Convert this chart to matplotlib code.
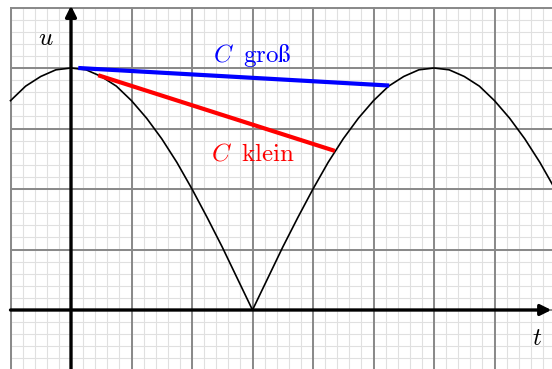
import matplotlib
matplotlib.use("Agg")
import matplotlib.pyplot as plt
import numpy as np

plt.rcParams['mathtext.fontset'] = 'cm'

t_werte = [-1.0, -0.75, -0.5, -0.25, 0.0, 0.25, 0.5, 0.75, 1.0, 1.25, 1.5, 1.75,
           2.0, 2.25, 2.5, 2.75, 3.0, 3.25, 3.5, 3.75, 4.0, 4.25, 4.5, 4.75,
           5.0, 5.25, 5.5, 5.75, 6.0, 6.25, 6.5, 6.75, 7.0, 7.25, 7.5, 7.75, 8.0]
u_werte = [3.46, 3.70, 3.86, 3.97, 4.00, 3.97, 3.86, 3.70, 3.46, 3.17, 2.83, 2.44,
           2.00, 1.53, 1.04, 0.52, 0.00, 0.52, 1.04, 1.53, 2.00, 2.44, 2.83, 3.17,
           3.46, 3.70, 3.86, 3.97, 4.00, 3.97, 3.86, 3.70, 3.46, 3.17, 2.83, 2.44, 2.00]

# Entladung bei grossem C
t_gross = [0.12, 5.26]
u_gross = [4.00, 3.71]

# Entladung bei kleinem C
t_klein = [0.45, 4.36]
u_klein = [3.88, 2.63]

fig = plt.figure(figsize=(5.52, 3.69), dpi=100)
ax = fig.add_axes([0, 0, 1, 1])
ax.set_xlim(-71 / 60.5, 481 / 60.5)
ax.set_ylim(-59 / 60.5, 310 / 60.5)
ax.axis('off')

# Kariertes Papier
for x in np.arange(-1, 8.01, 0.2):
    ax.plot([x, x], [-1.2, 5], color='#e0e0e0', lw=0.8, zorder=1)
for y in np.arange(-1.2, 5.01, 0.2):
    ax.plot([-1, 8.2], [y, y], color='#e0e0e0', lw=0.8, zorder=1)
for x in range(-1, 9):
    ax.plot([x, x], [-1.2, 5], color='#888888', lw=1.4, zorder=2)
for y in range(-1, 6):
    ax.plot([-1, 8.2], [y, y], color='#888888', lw=1.4, zorder=2)

# Achsen
ax.annotate('', xy=(7.94, 0), xytext=(-1, 0), annotation_clip=False,
            arrowprops=dict(arrowstyle='-|>', lw=2.4, color='black', mutation_scale=16,
                            shrinkA=0, shrinkB=0), zorder=5)
ax.annotate('', xy=(0, 5.03), xytext=(0, -1.2), annotation_clip=False,
            arrowprops=dict(arrowstyle='-|>', lw=2.4, color='black', mutation_scale=16,
                            shrinkA=0, shrinkB=0), zorder=5)

ax.plot(t_werte, u_werte, color='black', lw=1.2, zorder=4)
ax.plot(t_gross, u_gross, color='#0000ff', lw=3, solid_capstyle='butt', zorder=6)
ax.plot(t_klein, u_klein, color='#ff0000', lw=3, solid_capstyle='butt', zorder=6)

ax.text(-0.42, 4.5, r'$u$', fontsize=18, ha='center', va='center')
ax.text(7.7, -0.46, r'$t$', fontsize=18, ha='center', va='center')
ax.text(3.0, 4.2, r'$C\;\;\mathrm{gro\ss}$', fontsize=18, color='#0000ff',
        ha='center', va='center')
ax.text(3.0, 2.59, r'$C\;\;\mathrm{klein}$', fontsize=18, color='#ff0000',
        ha='center', va='center')

fig.savefig('out.png', dpi=100)
